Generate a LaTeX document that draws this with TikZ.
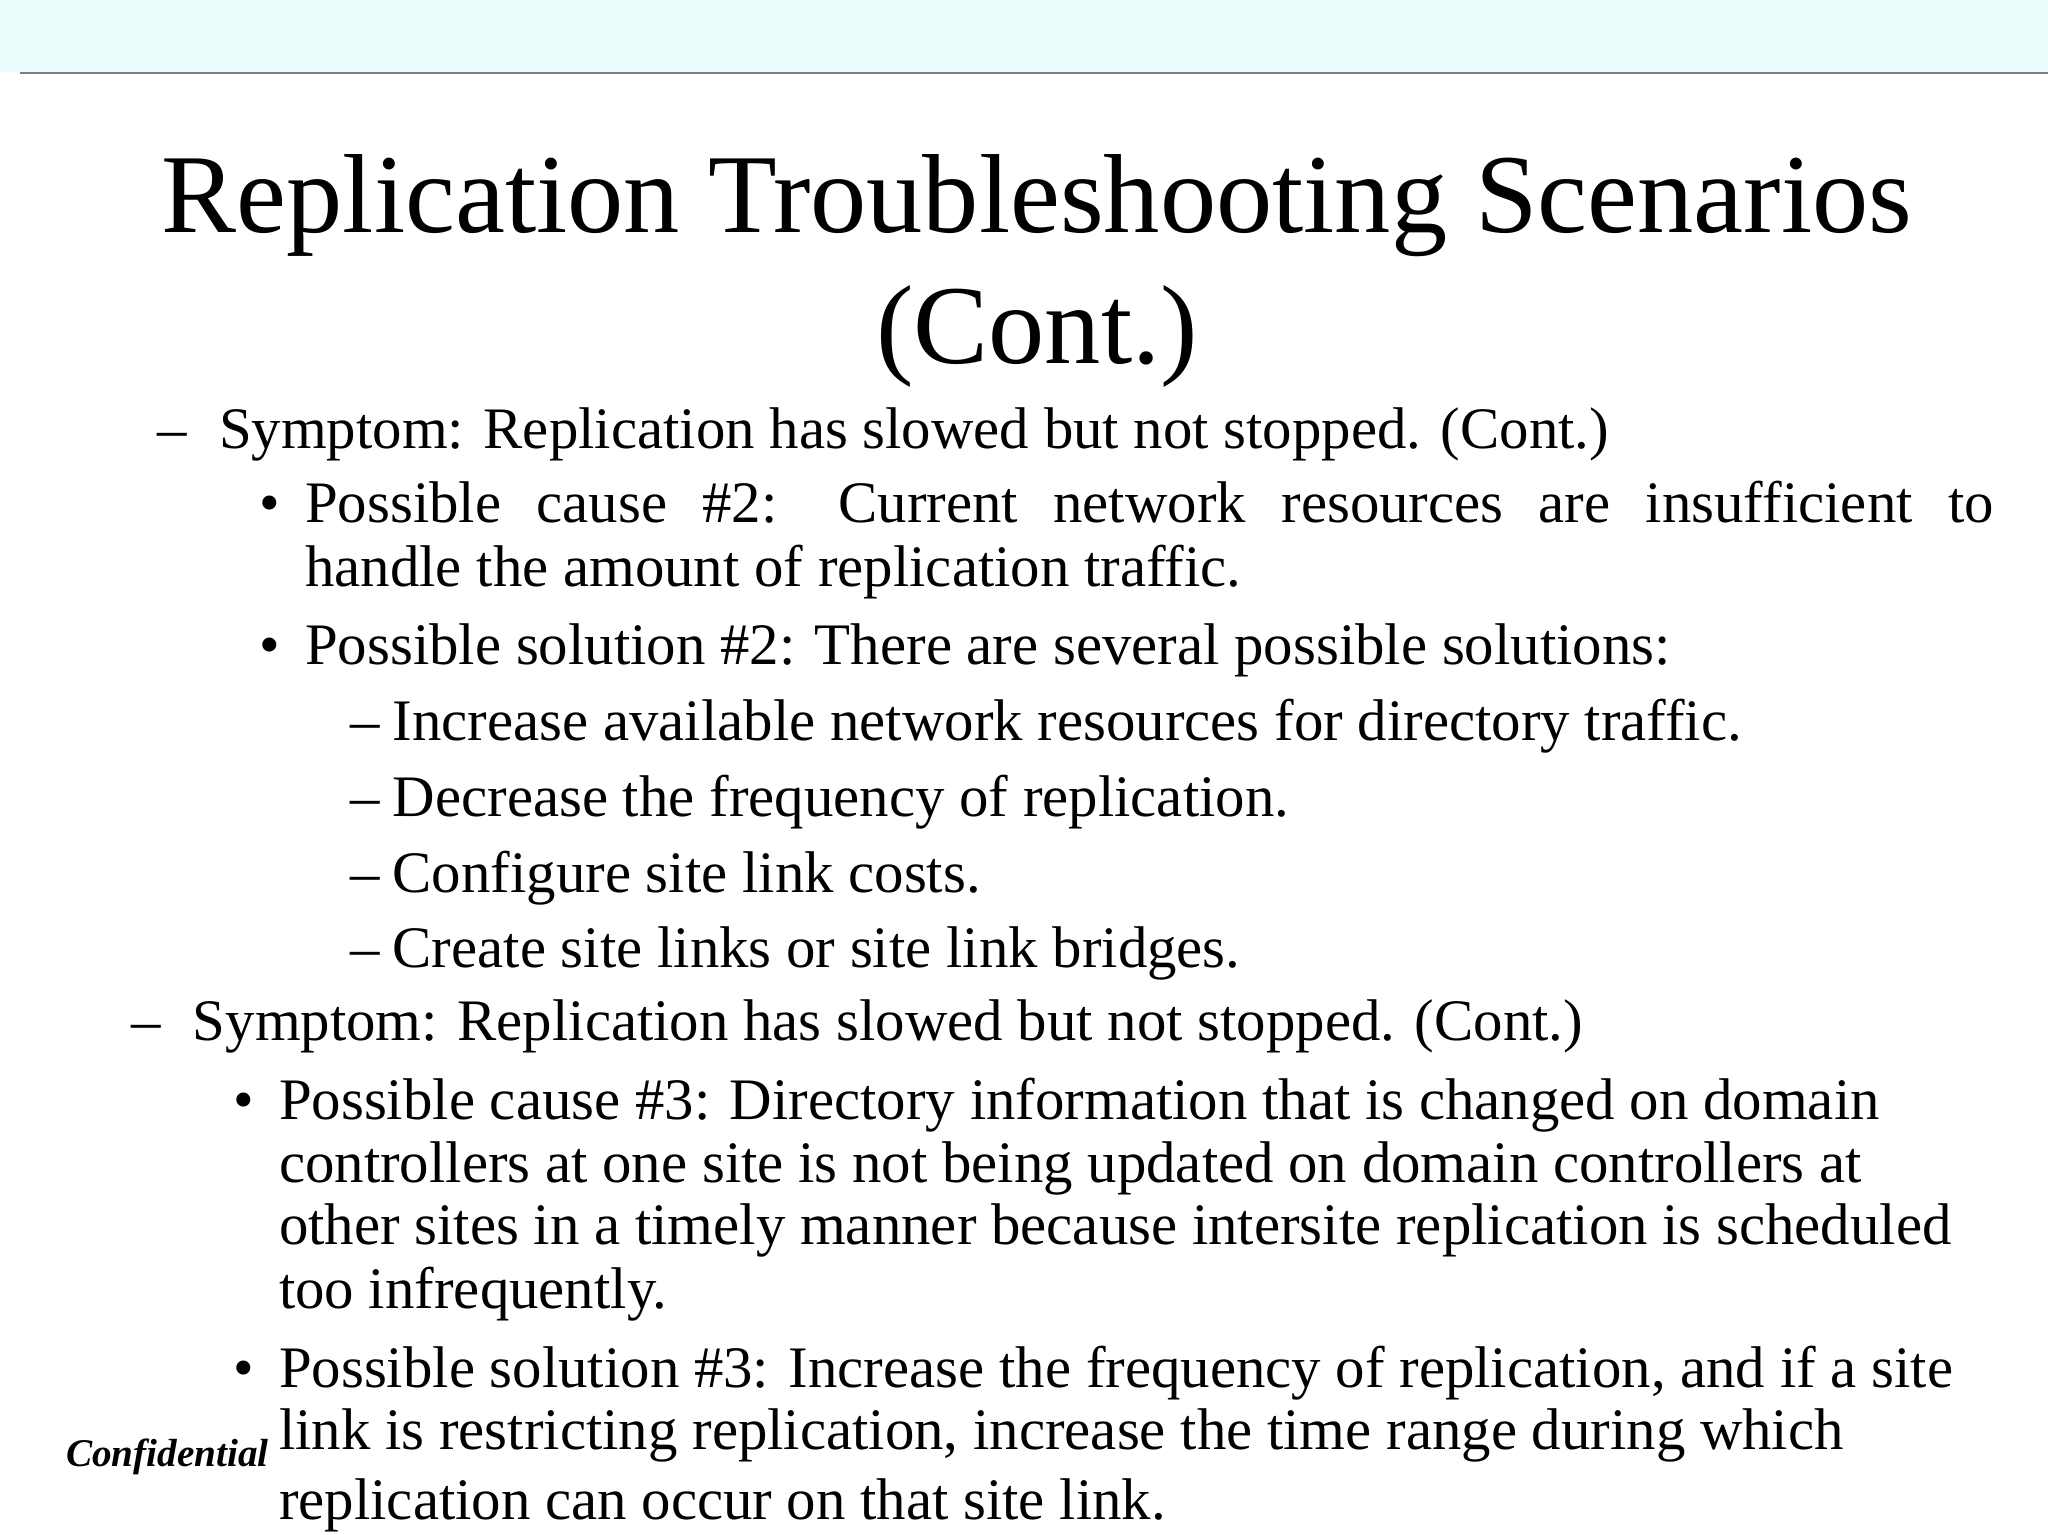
\documentclass[tikz,border=0pt]{standalone}
\usepackage{fontspec}
\setmainfont{Liberation Serif}
\begin{document}
\begin{tikzpicture}[x=0.01cm,y=-0.01cm,
  body/.style={anchor=base west,inner sep=0,font=\fontsize{0.45cm}{0.5cm}\selectfont},
  ttl/.style={anchor=base,inner sep=0,font=\fontsize{0.86cm}{1cm}\selectfont}]
\useasboundingbox (0,0) rectangle (1568,1175);
\fill[fill={rgb,255:red,234;green,254;blue,254}] (0,0) rectangle (1568,55);
\draw[gray,line width=0.02cm] (15,56) -- (1568,56);
\node[ttl] (t1) at (794,178) {Replication Troubleshooting Scenarios};
\node[ttl] (t2) at (794,278) {(Cont.)};
\node[body] (d1) at (120,343) {–};
\node[body] (s1) at (167,343) {Symptom: Replication has slowed but not stopped. (Cont.)};
\node[body] (b1) at (198,400) {•};
\node[body] (c2a) at (233,400) {\makebox[12.92cm][s]{Possible cause \#2: Current network resources are insufficient to}};
\node[body] (c2b) at (233,449) {handle the amount of replication traffic.};
\node[body] (b2) at (198,509) {•};
\node[body] (p2) at (233,509) {Possible solution \#2: There are several possible solutions:};
\foreach \yy/\tx [count=\i] in {567/Increase available network resources for directory traffic.,625/Decrease the frequency of replication.,683/Configure site link costs.,741/Create site links or site link bridges.}{
  \node[body] (e\i) at (268,\yy) {–};
  \node[body] (f\i) at (300,\yy) {\tx};
}
\node[body] (d2) at (100,797) {–};
\node[body] (s2) at (147,797) {Symptom: Replication has slowed but not stopped. (Cont.)};
\node[body] (b3) at (178,857) {•};
\node[body] (c3a) at (213,857) {Possible cause \#3: Directory information that is changed on domain};
\node[body] (c3b) at (213,905) {controllers at one site is not being updated on domain controllers at};
\node[body] (c3c) at (213,953) {other sites in a timely manner because intersite replication is scheduled};
\node[body] (c3d) at (213,1002) {too infrequently.};
\node[body] (b4) at (178,1062) {•};
\node[body] (p3a) at (213,1062) {Possible solution \#3: Increase the frequency of replication, and if a site};
\node[body] (p3b) at (213,1110) {link is restricting replication, increase the time range during which};
\node[body] (p3c) at (213,1163) {replication can occur on that site link.};
\node[anchor=base west,inner sep=0,font=\fontsize{0.3cm}{0.35cm}\selectfont\bfseries\itshape] (conf) at (50,1123) {Confidential};
\end{tikzpicture}
\end{document}
